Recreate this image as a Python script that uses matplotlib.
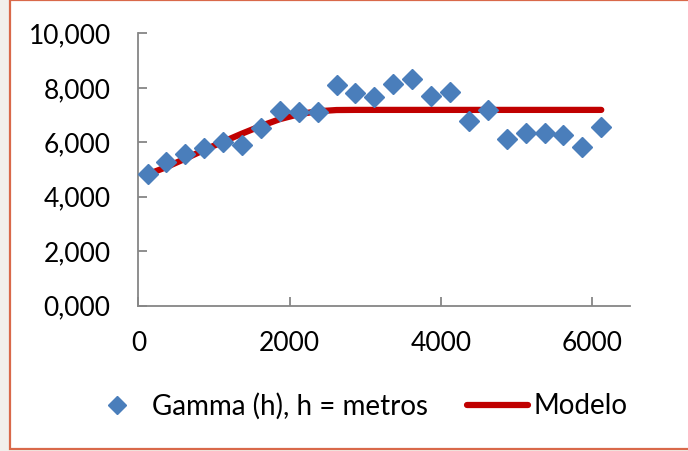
import matplotlib
matplotlib.use("Agg")
import matplotlib.pyplot as plt
from matplotlib.patches import Rectangle

plt.rcParams["font.family"] = ["Lato", "DejaVu Sans"]

# lag distances (m), experimental semivariance and fitted model
lags = [120, 370, 620, 870, 1120, 1370, 1620, 1870, 2120, 2370, 2620, 2870,
        3120, 3370, 3620, 3870, 4120, 4370, 4620, 4870, 5120, 5370, 5620,
        5870, 6120]
gamma = [4840, 5270, 5570, 5790, 6020, 5900, 6515, 7160, 7100, 7100, 8105,
         7825, 7675, 8130, 8315, 7700, 7840, 6770, 7190, 6110, 6330, 6330,
         6270, 5820, 6550]
model = [4820, 5090, 5400, 5720, 6020, 6320, 6600, 6850, 7030, 7140, 7185,
         7190, 7190, 7190, 7190, 7190, 7190, 7190, 7190, 7190, 7190, 7190,
         7190, 7190, 7190]

x_ticks = [0, 2000, 4000, 6000]
y_ticks = [0, 2000, 4000, 6000, 8000, 10000]
y_labels = ["0,000", "2,000", "4,000", "6,000", "8,000", "10,000"]

blue = "#4a7ebb"
red = "#c00000"
grey = "#868686"
fs = 19

fig = plt.figure(figsize=(6.88, 4.51), dpi=100)
fig.patch.set_facecolor("#f2f0ec")
fig.patches.append(Rectangle((10 / 688, 0.004), 1.0, 0.996, transform=fig.transFigure,
                             facecolor="white", edgecolor="#d9694a", linewidth=1.6,
                             zorder=-5))

ax = fig.add_axes([0.2012, 0.3222, 0.7145, 0.6038])
ax.set_facecolor("none")

ax.plot(lags, model, color=red, linewidth=4.5, solid_capstyle="round",
        label="Modelo", zorder=2)
ax.plot(lags, gamma, linestyle="none", marker="D", markersize=10.5,
        color=blue, label="Gamma (h), h = metros", zorder=3)

ax.set_xlim(0, 6500)
ax.set_ylim(0, 10000)
ax.set_xticks(x_ticks)
ax.set_yticks(y_ticks)
ax.set_yticklabels(y_labels)

for side in ["top", "right"]:
    ax.spines[side].set_visible(False)
for side in ["left", "bottom"]:
    ax.spines[side].set_color(grey)
    ax.spines[side].set_linewidth(1.3)

ax.tick_params(axis="both", direction="in", length=6.5, width=1.3,
               color=grey, labelsize=fs, labelcolor="black")
ax.tick_params(axis="y", pad=20)
ax.tick_params(axis="x", pad=18)

handles, labels = ax.get_legend_handles_labels()
fig.legend(handles[::-1], labels[::-1], loc="center left",
           bbox_to_anchor=(86 / 688, 1 - 406 / 451), ncol=2, frameon=False,
           fontsize=20, handlelength=2.2, handletextpad=0.18,
           columnspacing=1.4, borderpad=0, borderaxespad=0, markerscale=0.9)

fig.savefig("out.png", dpi=100, facecolor=fig.get_facecolor())
plt.close(fig)
